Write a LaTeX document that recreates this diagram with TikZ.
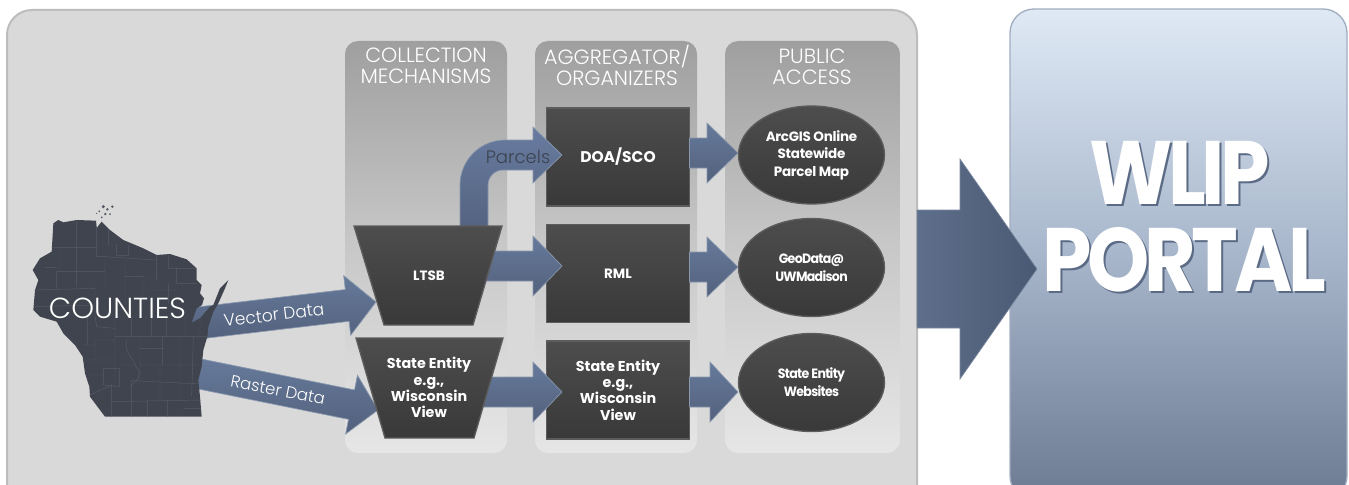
\documentclass[tikz,border=0pt]{standalone}
\usepackage{fontspec}
\setmainfont{Poppins}
\usetikzlibrary{calc,shapes.geometric}
\newfontfamily\lightfont{Poppins Light}
\def\uu{0.75pt}
\newcommand{\pxfont}[2]{\pgfmathsetmacro\fa{#1*0.75}\pgfmathsetmacro\fb{#2*0.75}\fontsize{\fa}{\fb}\selectfont}
\definecolor{arrowtop}{HTML}{667A9B}
\definecolor{arrowbot}{HTML}{53617C}
\definecolor{arrowedge}{HTML}{8A98AE}
\definecolor{mapfill}{HTML}{40444F}
\definecolor{mapline}{HTML}{565B67}
\definecolor{boxtop}{HTML}{4D4D4D}
\definecolor{boxbot}{HTML}{393939}
\definecolor{panelgray}{HTML}{D9D9D9}
\definecolor{panelline}{HTML}{BDBDBD}
\definecolor{colTop}{HTML}{9F9F9F}
\definecolor{colMid}{HTML}{C8C8C8}
\definecolor{colBot}{HTML}{E6E6E6}
\definecolor{boxedge}{HTML}{5C5C5C}
\definecolor{portalTop}{HTML}{DFE9F5}
\definecolor{portalMid}{HTML}{A7B6CB}
\definecolor{portalBot}{HTML}{6C7A92}
\definecolor{portalEdge}{HTML}{A0AEC0}
\definecolor{bigA}{HTML}{5E6F8B}
\definecolor{bigB}{HTML}{4A5973}
\definecolor{bigEdge}{HTML}{7C8AA0}
\definecolor{parcelTop}{HTML}{687CA0}
\definecolor{parcelBot}{HTML}{54627F}
\definecolor{parcelText}{HTML}{3C4250}
\definecolor{titleShadow}{HTML}{5C6B85}
\tikzset{
  panel/.style={rounded corners=25*\uu,fill=panelgray,draw=panelline,line width=1.5pt},
  column/.style={rounded corners=13*\uu,top color=colTop,bottom color=colBot,middle color=colMid},
  darkfill/.style={top color=boxtop,bottom color=boxbot,draw=boxedge,line width=1pt},
  boxtext/.style={text=white,align=center,inner sep=0pt,outer sep=0pt,font=\pxfont{14.3}{16.3}\bfseries},
  smalltext/.style={boxtext,font=\pxfont{13.5}{16.3}\bfseries},
  rectbox/.style={darkfill,boxtext,rectangle,minimum width=143*\uu,minimum height=98*\uu},
  ovalbox/.style={darkfill,boxtext,ellipse,minimum width=146*\uu,minimum height=98*\uu},
  ovalA/.style={font=\pxfont{13.5}{17.5}\bfseries\addfontfeatures{LetterSpace=-2}},
  ovalB/.style={font=\pxfont{13.5}{18}\bfseries\addfontfeatures{FakeStretch=0.93,LetterSpace=-5}},
  header/.style={text=white,align=center,inner sep=0pt,font=\lightfont\pxfont{20.6}{21}},
  arrowlabel/.style={text=white,inner sep=0pt,font=\lightfont\pxfont{16.5}{18}},
  blockarrow/.style={top color=arrowtop,bottom color=arrowbot,draw=arrowedge,line width=.5pt},
  titletext/.style={inner sep=0pt,font=\pxfont{90}{90}\bfseries\addfontfeatures{FakeStretch=0.88,LetterSpace=-5}},
}
% block arrow from a tail to a tip: shaft half width, head half width, head length, in px
\newcommand{\blockarrow}[5]{%
  \path[blockarrow]
    ($(#1)!#3*\uu!90:(#2)$)
    -- ($($(#2)!#5*\uu!(#1)$)!#3*\uu!-90:(#1)$)
    -- ($($(#2)!#5*\uu!(#1)$)!#4*\uu!-90:(#1)$)
    -- (#2)
    -- ($($(#2)!#5*\uu!(#1)$)!#4*\uu!90:(#1)$)
    -- ($($(#2)!#5*\uu!(#1)$)!#3*\uu!90:(#1)$)
    -- ($(#1)!#3*\uu!-90:(#2)$) -- cycle;}
\newcommand{\wioutline}{(160,100) -- (175,90) -- (190,97) -- (230,90) -- (288,92) -- (290,114) -- (305,95) -- (330,120) -- (370,150) -- (430,175) -- (470,195) -- (510,192) -- (560,208) -- (590,235) -- (590,270) -- (605,285) -- (600,310) -- (612,325) -- (606,345) -- (590,355) -- (575,398) -- (600,385) -- (630,350) -- (640,345) -- (660,295) -- (685,270) -- (675,295) -- (655,340) -- (640,365) -- (625,410) -- (622,440) -- (610,480) -- (605,530) -- (595,570) -- (600,620) -- (605,680) -- (315,680) -- (300,660) -- (270,620) -- (268,590) -- (255,550) -- (248,500) -- (225,465) -- (190,430) -- (170,395) -- (120,380) -- (100,360) -- (105,300) -- (115,270) -- (98,240) -- (120,205) -- (155,185) -- cycle}
\begin{document}
\begin{tikzpicture}[x=0.75pt,y=-0.75pt]
\useasboundingbox (0,0) rectangle (1349,485);
\fill[white] (0,0) rectangle (1349,485);
% panels
\begin{scope}
\clip (0,0) rectangle (1349,485);
\draw[panel] (7,10) rectangle (917,510);
\path[rounded corners=24*\uu,top color=portalTop,bottom color=portalBot,middle color=portalMid,draw=portalEdge,line width=1pt] (1010,9) rectangle (1347,500);
\end{scope}
\path[column] (345,41) rectangle (507,453);
\path[column] (535,41) rectangle (697,453);
\path[column] (725,41) rectangle (900,453);
% rectangular nodes lie under the arrow heads
\node[rectbox,font=\pxfont{15.5}{17}\bfseries] (doa) at (618,157) {DOA/SCO};
\node[rectbox,smalltext] (rml) at (618,273.5) {RML};
\node[rectbox] (se2) at (618,390) {State Entity\\e.g.,\\Wisconsin\\View};
% named coordinates
\coordinate (vtail) at (190,324);
\coordinate (vtip) at (376,302);
\coordinate (rtail) at (190,372);
\coordinate (rtip) at (378,410);
\coordinate (ltail) at (478,266);
\coordinate (ltip) at (562,266);
\coordinate (stail) at (478,392);
\coordinate (stip) at (562,392);
\coordinate (bigtail) at (917,269);
\coordinate (bigtip) at (1037,269);
\coordinate (ptip) at (562,155);
\coordinate (pbase) at (474,230);
\coordinate (b1) at (738,153);
\coordinate (b2) at (738,267);
\coordinate (b3) at (738,392);
\coordinate (a1) at (doa.east |- b1);
\coordinate (a2) at (rml.east |- b2);
\coordinate (a3) at (se2.east |- b3);
% arrows
\blockarrow{vtail}{vtip}{16}{30}{29}
\blockarrow{rtail}{rtip}{15}{30}{27}
\blockarrow{ltail}{ltip}{15}{30}{29}
\blockarrow{stail}{stip}{15}{30}{29}
\blockarrow{a1}{b1}{15}{30}{31}
\blockarrow{a2}{b2}{15}{30}{31}
\blockarrow{a3}{b3}{15}{30}{28}
\path[blockarrow,top color=parcelTop,bottom color=parcelBot]
  ($(pbase)+(-14,0)$) -- ++(0,-45) arc[start angle=180,end angle=270,radius=45] -- (533,140) -- (533,127) -- (ptip) -- (533,183) -- (533,170) -- (503,170) arc[start angle=270,end angle=180,radius=15] -- ++(0,45) -- cycle;
% oval nodes
\node[ovalbox,ovalA] (arc) at (811.5,155) {ArcGIS Online\\Statewide\\Parcel Map};
\node[ovalbox,ovalB] (geo) at (811.5,267.5) {GeoData@\\UWMadison};
\node[ovalbox,ovalB] (web) at (811.5,382.5) {State Entity\\Websites};
\path[left color=bigA,right color=bigB,draw=bigEdge,line width=.5pt]
  ($(bigtail)+(0,-59)$) -- ++(43,0) -- ++(0,-51) -- (bigtip) -- ++(-77,110) -- ++(0,-51) -- ++(-43,0) -- cycle;
% map of Wisconsin
\begin{scope}[shift={(0,190)},x=0.25pt,y=-0.25pt]
\fill[mapline] (298,64) circle[radius=3] (310,50) circle[radius=5] (322,58) circle[radius=4] (337,50) circle[radius=4] (330,72) circle[radius=3] (316,72) circle[radius=4] (305,82) circle[radius=3] (290,70) circle[radius=2];
\fill[mapfill] \wioutline;
\clip \wioutline;
\draw[mapline,line width=.35pt]
 (230,92) -- (230,290) (150,172) -- (290,172) (290,92) -- (290,200) -- (315,200) -- (315,285)
 (170,245) -- (315,245) (170,245) -- (170,295) (105,300) -- (285,295) (135,232) -- (170,232)
 (180,172) -- (180,245) (325,120) -- (325,165) -- (350,165) -- (350,197) -- (385,197) -- (385,165)
 (315,200) -- (470,210) (375,210) -- (375,345) (375,260) -- (432,260) -- (432,345)
 (470,195) -- (470,270) -- (435,270) (505,195) -- (505,235) -- (590,235) (530,235) -- (530,280) -- (590,280)
 (505,280) -- (505,340) (285,285) -- (285,380) (435,300) -- (530,300) (105,350) -- (285,345)
 (285,380) -- (290,410) -- (345,415) (395,380) -- (395,440) (455,380) -- (455,440) (500,380) -- (500,440) (555,380) -- (555,440) (600,370) -- (600,440)
 (262,380) -- (262,465) (345,440) -- (622,440) (345,380) -- (345,580) (285,450) -- (345,450)
 (285,450) -- (285,510) -- (345,510) (245,465) -- (285,465) (250,510) -- (345,510)
 (258,555) -- (310,555) (310,535) -- (358,535) -- (358,590) -- (310,585) -- cycle
 (358,525) -- (405,525) -- (418,545) -- (415,565) -- (390,590) (380,450) .. controls (370,490) and (400,500) .. (405,525)
 (420,440) -- (420,570) (420,475) -- (490,475) (488,440) -- (488,525) (540,440) -- (540,620) (580,440) -- (575,620) (420,525) -- (605,525)
 (480,525) -- (480,630) (395,570) -- (395,680) (335,585) -- (335,680) (335,635) -- (605,630) (443,630) -- (443,680) (502,630) -- (502,680)
 (550,655) -- (605,655) (270,615) -- (335,585) (395,572) -- (605,582);
\end{scope}
% trapezoids
\path[darkfill] (354,226) -- (502,226) -- (473,325) -- (384,325) -- cycle;
\path[darkfill] (356,338) -- (503,338) -- (474,438) -- (385,438) -- cycle;
\node[smalltext] (ltsb) at (429,276) {LTSB};
\node[boxtext] (se1) at (429,387.5) {State Entity\\e.g.,\\Wisconsin\\View};
% labels
\node[header] (h1) at (426,65.5) {COLLECTION\\MECHANISMS};
\node[header] (h2) at (617,65.5) {AGGREGATOR/\\ORGANIZERS};
\node[header] (h3) at (812,66.5) {PUBLIC\\ACCESS};
\node[inner sep=0pt,text=white,font=\lightfont\pxfont{29}{30}] (cty) at (117.5,308) {COUNTIES};
\node[arrowlabel,rotate=7,font=\lightfont\pxfont{17}{18}] (vd) at (274,315) {Vector Data};
\node[arrowlabel,rotate=-11] (rd) at (278,390) {Raster Data};
\node[inner sep=0pt,text=parcelText,font=\lightfont\pxfont{18}{20}] (pc) at (518,157) {Parcels};
\node[titletext,text=titleShadow] (ws) at (1182,174.5) {WLIP};
\node[titletext,text=titleShadow] (ps) at (1186,262) {PORTAL};
\node[titletext,text=white] (w) at (1180,172.5) {WLIP};
\node[titletext,text=white] (p) at (1184,260) {PORTAL};
\end{tikzpicture}
\end{document}
